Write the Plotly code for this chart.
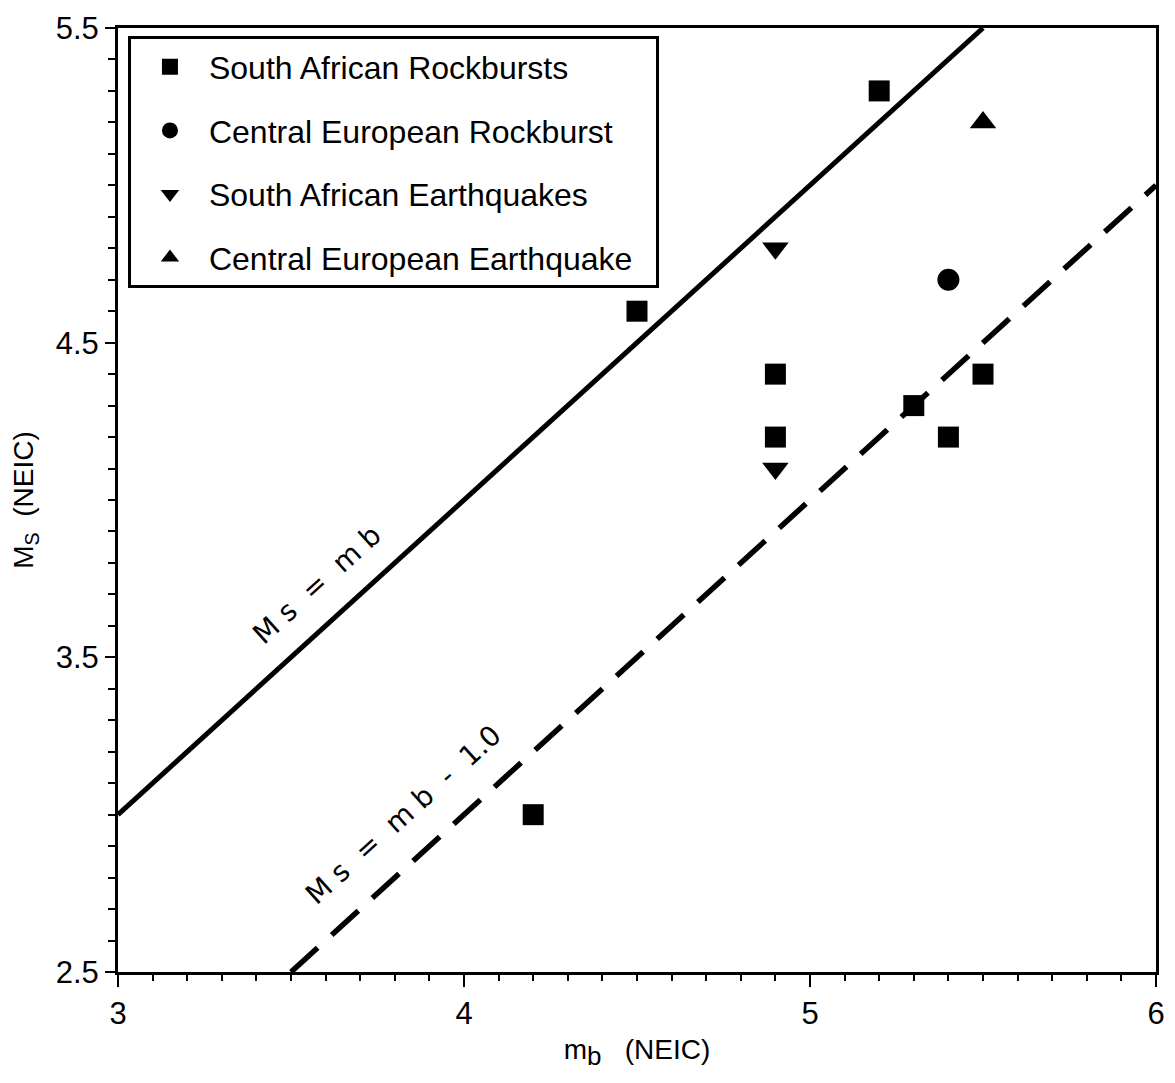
import plotly.graph_objects as go

# Data
sa_rock_mb = [4.5, 5.2, 4.9, 4.9, 5.3, 5.4, 5.5, 4.2]
sa_rock_ms = [4.6, 5.3, 4.4, 4.2, 4.3, 4.2, 4.4, 3.0]
ce_rock_mb = [5.4]
ce_rock_ms = [4.7]
sa_eq_mb = [4.9, 4.9]
sa_eq_ms = [4.8, 4.1]
ce_eq_mb = [5.5]
ce_eq_ms = [5.2]

line1_mb = [3.0, 5.5]
line1_ms = [3.0, 5.5]
line2_mb = [3.5, 6.0]
line2_ms = [2.5, 5.0]

FONT = "Liberation Sans, Arial, sans-serif"
PAD = "\u00a0\u00a0"

fig = go.Figure()

fig.add_trace(go.Scatter(x=line1_mb, y=line1_ms, mode="lines",
                         line=dict(color="black", width=5), showlegend=False, hoverinfo="skip"))
fig.add_trace(go.Scatter(x=line2_mb, y=line2_ms, mode="lines",
                         line=dict(color="black", width=5.5, dash="36px,19px"), showlegend=False, hoverinfo="skip"))

fig.add_trace(go.Scatter(x=sa_rock_mb, y=sa_rock_ms, mode="markers", name="South African Rockbursts" + PAD,
                         legendgroup="a",
                         marker=dict(symbol="square", size=21, color="black")))
fig.add_trace(go.Scatter(x=ce_rock_mb, y=ce_rock_ms, mode="markers", name="Central European Rockburst" + PAD,
                         legendgroup="b",
                         marker=dict(symbol="circle", size=22, color="black")))
fig.add_trace(go.Scatter(x=sa_eq_mb, y=sa_eq_ms, mode="markers", name="South African Earthquakes" + PAD,
                         legendgroup="c",
                         marker=dict(symbol="triangle-down", size=23, color="black")))
fig.add_trace(go.Scatter(x=ce_eq_mb, y=ce_eq_ms, mode="markers", name="Central European Earthquake" + PAD,
                         legendgroup="d",
                         marker=dict(symbol="triangle-up", size=23, color="black")))

fig.add_annotation(x=3.576, y=3.73, text="M s  =  m b", showarrow=False, textangle=-42,
                   font=dict(family="DejaVu Sans, sans-serif", size=28, color="black"))
fig.add_annotation(x=3.826, y=3.0, text="M s  =  m b  -  1.0", showarrow=False, textangle=-42,
                   font=dict(family="DejaVu Sans, sans-serif", size=28, color="black"))

fig.update_layout(
    width=1175, height=1083,
    margin=dict(l=118, r=10, t=28, b=111),
    paper_bgcolor="white", plot_bgcolor="white",
    font=dict(family=FONT, size=30, color="black"),
    legend=dict(x=0.0096, y=0.991, xanchor="left", yanchor="top",
                bordercolor="black", borderwidth=3, bgcolor="white",
                font=dict(size=32), tracegroupgap=19, itemsizing="trace", itemwidth=68),
    xaxis=dict(range=[3, 6], tick0=3, dtick=1, showgrid=False, zeroline=False,
               showline=True, linecolor="black", linewidth=3, mirror=True,
               ticks="outside", ticklen=12, tickwidth=2, tickcolor="black",
               tickfont=dict(size=31),
               minor=dict(dtick=0.1, ticks="outside", ticklen=6, tickwidth=2, tickcolor="black", showgrid=False),
               title=dict(text="m<sub><span style='font-size:26px'>b</span></sub>   (NEIC)",
                          font=dict(size=28), standoff=10)),
    yaxis=dict(range=[2.5, 5.5], tick0=2.5, dtick=1, showgrid=False, zeroline=False,
               showline=True, linecolor="black", linewidth=3, mirror=True,
               ticks="outside", ticklen=10, tickwidth=2, tickcolor="black",
               tickfont=dict(size=31),
               minor=dict(dtick=0.1, ticks="outside", ticklen=7, tickwidth=2, tickcolor="black", showgrid=False),
               title=dict(text="M<sub>S</sub>  (NEIC)", font=dict(size=28), standoff=14)),
)

fig.write_html(
    "out.html",
    config={"displayModeBar": False},
    post_script="document.body.style.margin='0';document.body.style.overflow='hidden';"
                "document.documentElement.style.overflow='hidden';",
)
